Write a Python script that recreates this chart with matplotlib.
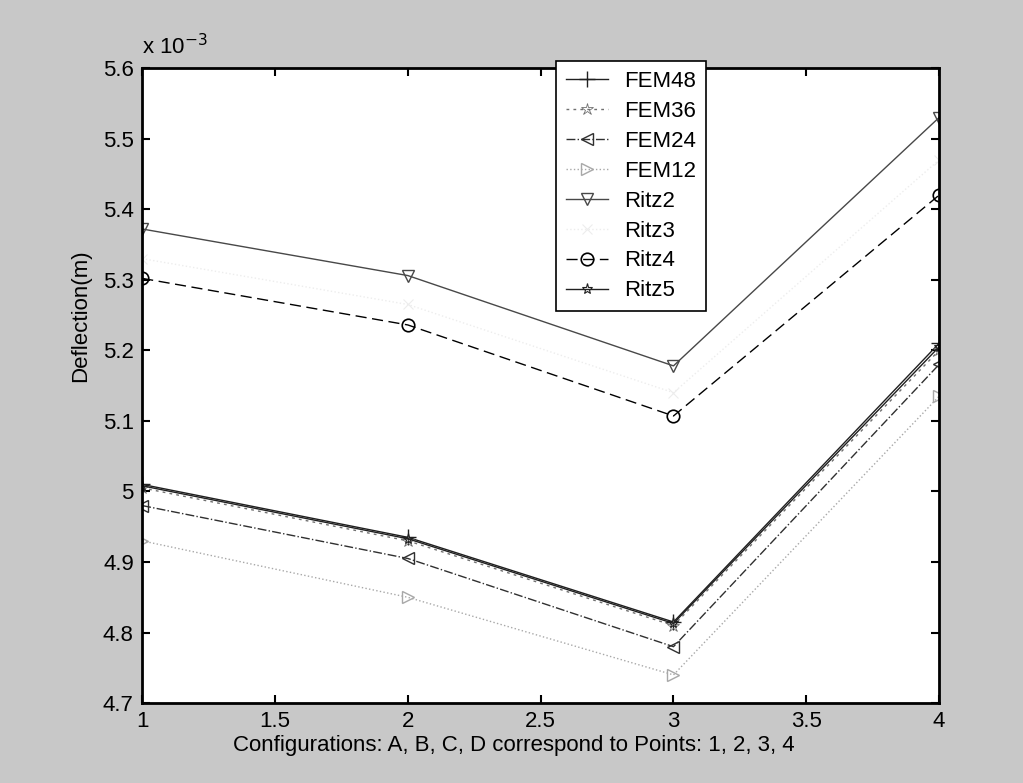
import matplotlib
matplotlib.use("Agg")
import matplotlib.pyplot as plt
from matplotlib.ticker import FuncFormatter, MultipleLocator

plt.rcParams['font.family'] = ['Liberation Sans', 'DejaVu Sans']

x = [1, 2, 3, 4]
FEM48 = [5.010, 4.935, 4.815, 5.210]
FEM36 = [5.005, 4.930, 4.810, 5.200]
FEM24 = [4.980, 4.905, 4.780, 5.180]
FEM12 = [4.930, 4.850, 4.740, 5.135]
Ritz2 = [5.372, 5.306, 5.178, 5.530]
Ritz3 = [5.330, 5.265, 5.140, 5.470]
Ritz4 = [5.302, 5.236, 5.107, 5.420]
Ritz5 = [5.008, 4.933, 4.813, 5.205]

series = [
    ("FEM48", FEM48, dict(color="#202020", ls="-", marker="+", ms=12, mew=1.0)),
    ("FEM36", FEM36, dict(color="#707070", ls=(0, (2, 3)), marker="*", ms=9, mew=0.6, mfc="none")),
    ("FEM24", FEM24, dict(color="#303030", ls="-.", marker="<", ms=9, mfc="none", mew=1.0)),
    ("FEM12", FEM12, dict(color="#a8a8a8", ls=":", marker=">", ms=9, mfc="none", mew=1.0)),
    ("Ritz2", Ritz2, dict(color="#484848", ls="-", marker="v", ms=9, mfc="none", mew=1.0)),
    ("Ritz3", Ritz3, dict(color="#ededed", ls=":", marker="x", ms=7, mew=0.8)),
    ("Ritz4", Ritz4, dict(color="#000000", ls=(0, (8, 4)), marker="o", ms=9, mfc="none", mew=1.2)),
    ("Ritz5", Ritz5, dict(color="#202020", ls="-", marker="*", ms=8, mew=0.8, mfc="none")),
]

FS = 16

fig = plt.figure(figsize=(10.23, 7.83), dpi=100, facecolor="#c8c8c8")
ax = fig.add_axes([0.139, 0.102, 0.779, 0.811])
ax.set_facecolor("white")

for name, vals, st in series:
    ax.plot(x, vals, label=name, lw=1.0, **st)

ax.set_xlim(1, 4)
ax.set_ylim(4.7, 5.6)
ax.xaxis.set_major_locator(MultipleLocator(0.5))
ax.yaxis.set_major_locator(MultipleLocator(0.1))
fmt = FuncFormatter(lambda v, p: "%g" % round(v, 4))
ax.xaxis.set_major_formatter(fmt)
ax.yaxis.set_major_formatter(fmt)
ax.tick_params(direction="in", length=6, width=1.5, labelsize=FS, top=True, right=True, pad=6)
for sp in ax.spines.values():
    sp.set_linewidth(2)

ax.set_xlabel("Configurations: A, B, C, D correspond to Points: 1, 2, 3, 4", fontsize=FS)
ax.xaxis.set_label_coords(0.466, -0.05)
ax.set_ylabel("Deflection(m)", fontsize=FS)
ax.yaxis.set_label_coords(-0.064, 0.61)
fig.text(0.139, 0.925, r"x 10$^{-3}$", fontsize=FS, ha="left", va="bottom")

leg = ax.legend(loc="upper left", bbox_to_anchor=(0.5435, 0.922), bbox_transform=fig.transFigure,
                fontsize=FS, frameon=True, fancybox=False, edgecolor="black",
                handlelength=1.9, labelspacing=0.4, borderpad=0.45, handletextpad=0.7,
                borderaxespad=0, framealpha=1)
leg.get_frame().set_linewidth(1.2)

fig.savefig("out.png", dpi=100, facecolor=fig.get_facecolor())
